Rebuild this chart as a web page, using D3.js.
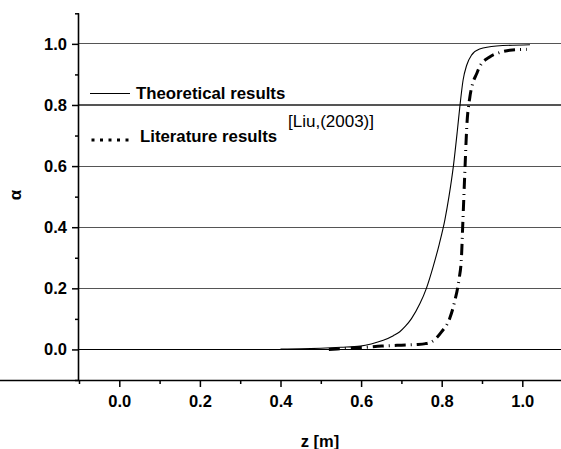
<!DOCTYPE html>
<html>
<head>
<meta charset="utf-8">
<script src="https://cdn.jsdelivr.net/npm/d3@7"></script>
<style>
  html, body { margin: 0; padding: 0; background: #fff; }
  svg { display: block; }
  text { font-family: "Liberation Sans", Arial, sans-serif; }
</style>
</head>
<body>
<svg id="chart" width="561" height="449"></svg>
<script>
// ---- data ----
const theoZ = [0.40, 0.45, 0.50, 0.55, 0.598, 0.625, 0.655, 0.68, 0.696, 0.71, 0.725, 0.746, 0.762, 0.779, 0.794, 0.808, 0.818, 0.829, 0.839, 0.845, 0.853, 0.862, 0.874, 0.894, 0.936, 1.019];
const theoA = [0.001, 0.002, 0.004, 0.007, 0.011, 0.018, 0.030, 0.045, 0.058, 0.076, 0.101, 0.150, 0.200, 0.272, 0.345, 0.425, 0.500, 0.600, 0.718, 0.794, 0.881, 0.930, 0.963, 0.983, 0.993, 0.997];
const litZ = [0.52, 0.56, 0.60, 0.651, 0.70, 0.735, 0.76, 0.775, 0.80, 0.82, 0.832, 0.843, 0.849, 0.852, 0.855, 0.858, 0.862, 0.870, 0.876, 0.887, 0.894, 0.919, 0.940, 0.969, 1.011];
const litA = [0.0, 0.003, 0.006, 0.011, 0.014, 0.016, 0.019, 0.025, 0.058, 0.102, 0.156, 0.23, 0.30, 0.40, 0.50, 0.60, 0.723, 0.827, 0.866, 0.903, 0.925, 0.957, 0.970, 0.979, 0.982];
const xTicks = [0.0, 0.2, 0.4, 0.6, 0.8, 1.0];
const xMinor = [-0.1, 0.1, 0.3, 0.5, 0.7, 0.9];
const yTicks = [0.0, 0.2, 0.4, 0.6, 0.8, 1.0];
const yMinor = [-0.1, 0.1, 0.3, 0.5, 0.7, 0.9, 1.1];
const seriesNames = ["Theoretical results", "Literature results"];
const citation = "[Liu,(2003)]";
const xTitle = "z [m]";
const yTitle = "α";

// ---- layout ----
const svg = d3.select("#chart");
const x = d3.scaleLinear().domain([-0.1, 1.1]).range([79, 562.6]);
const y = d3.scaleLinear().domain([-0.1, 1.1]).range([380, 13.3]);
const fmt = d3.format(".1f");

// gridlines
svg.append("g").selectAll("line").data(yTicks).join("line")
  .attr("x1", x(-0.1)).attr("x2", 561)
  .attr("y1", d => y(d)).attr("y2", d => y(d))
  .attr("stroke", d => d === 0 ? "#000" : "#555")
  .attr("stroke-width", 1.1)
  .attr("shape-rendering", "crispEdges");

// curves
const line = d3.line().x(d => x(d[0])).y(d => y(d[1])).curve(d3.curveMonotoneX);
svg.append("path")
  .datum(theoZ.map((z, i) => [z, theoA[i]]))
  .attr("d", line).attr("fill", "none").attr("stroke", "#000").attr("stroke-width", 1.1);
svg.append("path")
  .datum(litZ.map((z, i) => [z, litA[i]]))
  .attr("d", line).attr("fill", "none").attr("stroke", "#000").attr("stroke-width", 3)
  .attr("stroke-dasharray", "11,5,1,5");

// axes
const gx = svg.append("g").attr("transform", `translate(0,${y(-0.1)})`)
  .call(d3.axisBottom(x).tickValues(xTicks).tickFormat(fmt).tickSize(7).tickPadding(8));
const gxm = svg.append("g").attr("transform", `translate(0,${y(-0.1)})`)
  .call(d3.axisBottom(x).tickValues(xMinor).tickFormat("").tickSize(4));
const gy = svg.append("g").attr("transform", `translate(${x(-0.1)},0)`)
  .call(d3.axisLeft(y).tickValues(yTicks).tickFormat(fmt).tickSize(7).tickPadding(5));
const gym = svg.append("g").attr("transform", `translate(${x(-0.1)},0)`)
  .call(d3.axisLeft(y).tickValues(yMinor).tickFormat("").tickSize(4));
gxm.select(".domain").remove();
gym.select(".domain").remove();
[gx, gy, gxm, gym].forEach(g => {
  g.selectAll("line").attr("stroke", "#000").attr("stroke-width", 1.5);
  g.selectAll(".domain").attr("stroke", "#000").attr("stroke-width", 1.6);
  g.selectAll("text").attr("fill", "#000").style("font-size", "16.5px").style("font-weight", "bold")
    .style("font-family", "'Liberation Sans', Arial, sans-serif");
});
gy.select(".domain").attr("d", `M-0.5,${y(-0.1)}V${y(1.1)}`);
gx.select(".domain").attr("d", `M0,0.5H${x(1.1)}`);

// axis titles
svg.append("text").attr("x", 320).attr("y", 447).attr("text-anchor", "middle")
  .style("font-size", "16.5px").style("font-weight", "bold").text(xTitle);
svg.append("text").attr("transform", "translate(21,195) rotate(-90)").attr("text-anchor", "middle")
  .style("font-size", "17px").style("font-weight", "bold").text(yTitle);

// legend
svg.append("line").attr("x1", 90).attr("x2", 130).attr("y1", 93.5).attr("y2", 93.5)
  .attr("stroke", "#000").attr("stroke-width", 1.1);
svg.append("text").attr("x", 136).attr("y", 99).style("font-size", "16.8px").style("font-weight", "bold")
  .text(seriesNames[0]);
svg.append("line").attr("x1", 91.5).attr("x2", 130).attr("y1", 140).attr("y2", 140)
  .attr("stroke", "#000").attr("stroke-width", 3).attr("stroke-dasharray", "3,5.5");
svg.append("text").attr("x", 140).attr("y", 142).style("font-size", "16.8px").style("font-weight", "bold")
  .text(seriesNames[1]);
svg.append("text").attr("x", 288).attr("y", 127).style("font-size", "17px")
  .text(citation);
</script>
</body>
</html>
